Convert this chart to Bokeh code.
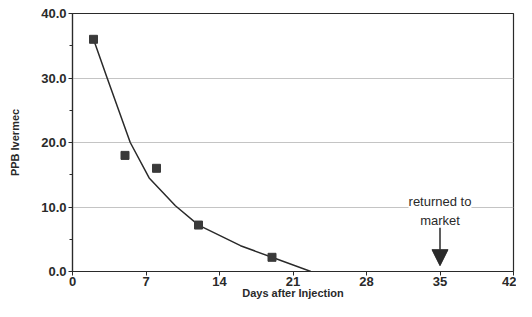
from bokeh.plotting import figure
from bokeh.models import Label, Arrow, NormalHead, FixedTicker, Range1d, CustomJSTickFormatter
from bokeh.embed import file_html
from bokeh.resources import INLINE

# data
obs_days = [2, 5, 8, 12, 19]
obs_ppb = [36.0, 18.0, 16.0, 7.2, 2.2]
fit_days = [2, 3.3, 5.5, 7.3, 9.8, 12, 16, 19, 22.7]
fit_ppb = [36.0, 30.0, 20.0, 14.5, 10.2, 7.2, 4.0, 2.2, 0.0]
x_ticks = [0, 7, 14, 21, 28, 35, 42]
y_ticks = [0, 10, 20, 30, 40]
y_minor = [5, 15, 25, 35]
market_day = 35
note_text = "returned to\nmarket"

FONT = "Liberation Sans"
INK = "#2a2a2a"

p = figure(width=516, height=301, output_backend="svg", toolbar_location=None,
           x_range=Range1d(0, 42), y_range=Range1d(0, 40),
           min_border_left=72, min_border_right=3, min_border_top=13, min_border_bottom=0)
p.background_fill_color = "white"
p.border_fill_color = "white"
p.outline_line_color = INK
p.outline_line_width = 1.2

p.xgrid.visible = False
p.ygrid.ticker = FixedTicker(ticks=[10, 20, 30])
p.ygrid.grid_line_color = "#c4c4c4"
p.ygrid.grid_line_width = 1

p.xaxis.ticker = FixedTicker(ticks=x_ticks)
p.yaxis.ticker = FixedTicker(ticks=y_ticks, minor_ticks=y_minor)
p.yaxis.formatter = CustomJSTickFormatter(code="return tick.toFixed(1)")

for ax in (p.xaxis[0], p.yaxis[0]):
    ax.axis_line_color = INK
    ax.axis_line_width = 1.2
    ax.major_tick_line_color = INK
    ax.minor_tick_line_color = INK
    ax.major_tick_in = 0
    ax.major_tick_out = 4
    ax.minor_tick_in = 0
    ax.minor_tick_out = 3
    ax.major_label_text_font = FONT
    ax.major_label_text_font_style = "bold"
    ax.major_label_text_font_size = "13px"
    ax.major_label_text_color = INK
    ax.axis_label_text_font = FONT
    ax.axis_label_text_font_style = "bold"
    ax.axis_label_text_font_size = "11px"
    ax.axis_label_text_color = INK
p.xaxis.minor_tick_line_color = None
p.xaxis.major_label_standoff = 1
p.xaxis.axis_label = "Days after Injection"
p.xaxis.axis_label_standoff = -2
p.yaxis.axis_label = "PPB Ivermec"
p.yaxis.axis_label_standoff = 17
p.yaxis.major_label_standoff = 2

p.line(fit_days, fit_ppb, line_color=INK, line_width=1.5)
p.scatter(obs_days, obs_ppb, marker="square", size=8, fill_color="#3a3a3a", line_color="#3a3a3a")

p.add_layout(Arrow(end=NormalHead(size=16, fill_color=INK, line_color=INK),
                   x_start=market_day, y_start=7.0, x_end=market_day, y_end=0.9,
                   line_color=INK, line_width=1.5))
p.add_layout(Label(x=market_day, y=9.4, text=note_text, text_align="center", text_baseline="middle",
                   text_font=FONT, text_font_size="13px", text_color=INK,
                   background_fill_color="white", text_line_height=1.25))

open("out.html", "w").write(file_html(p, INLINE))
